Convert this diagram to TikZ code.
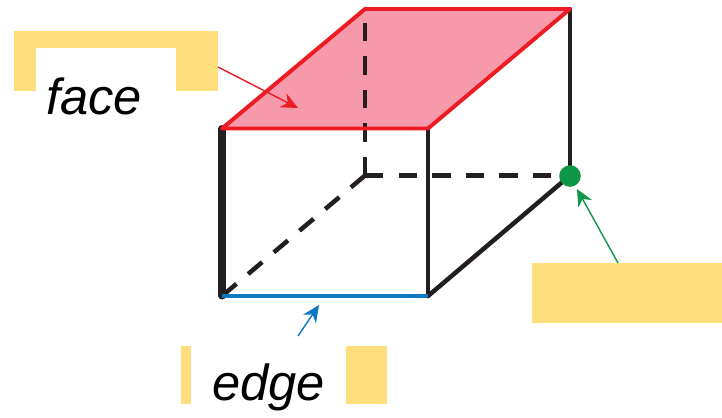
\documentclass[tikz,border=0pt]{standalone}
\usepackage{fontspec}
\setmainfont{Liberation Sans}
\usepackage{xcolor}
\definecolor{boxblack}{HTML}{231F20}
\definecolor{facered}{HTML}{ED1C24}
\definecolor{facepink}{HTML}{F699AA}
\definecolor{edgeblue}{HTML}{0B78C2}
\definecolor{vertexgreen}{HTML}{0F9647}
\definecolor{labelyellow}{HTML}{FFDE7E}
\usetikzlibrary{arrows.meta,positioning}
\tikzset{
  solidedge/.style={color=boxblack,line width=3.2pt,line cap=round},
  hiddenedge/.style={color=boxblack,line width=3.2pt,dash pattern=on 13.1pt off 10.8pt},
  labelbox/.style={fill=labelyellow,draw=none,inner sep=0pt,rectangle},
  labeltext/.style={inner sep=0pt,font=\fontsize{36}{40}\selectfont\itshape,color=black},
  pointer/.style={line width=1pt,-{Stealth[length=12pt,width=11pt]}}
}

\begin{document}
\begin{tikzpicture}[x=0.025cm,y=-0.025cm]
\useasboundingbox (0,0) rectangle (722,417);
\coordinate (ftl) at (222,128.5);
\coordinate (ftr) at (428,128.5);
\coordinate (fbl) at (222,296);
\coordinate (fbr) at (428,296);
\coordinate (btl) at (365,9);
\coordinate (btr) at (570,9);
\coordinate (bbl) at (365,175.5);
\coordinate (bbr) at (570,175.5);
\fill[facepink] (ftl) -- (btl) -- (btr) -- (ftr) -- cycle;
\draw[hiddenedge] (bbl) -- (btl);
\draw[hiddenedge] (bbl) -- (bbr);
\draw[hiddenedge] (bbl) -- (fbl);
\draw[solidedge] (btr) -- (bbr);
\draw[solidedge] (bbr) -- (fbr);
\draw[solidedge] (ftr) -- (fbr);
\draw[solidedge,line width=5pt] (ftl) -- (fbl);
\draw[edgeblue,line width=3.2pt] (fbl) -- (fbr);
\draw[facered,line width=2.8pt,line join=round] (ftl) -- (btl) -- (btr) -- (ftr) -- cycle;
\node[circle,fill=vertexgreen,inner sep=0pt,minimum size=0.54cm] (vertexdot) at (570,176) {};
% label patches
\node[labelbox,minimum width=5.1cm,minimum height=0.425cm] (facetop) at (116,39.5) {};
\node[labelbox,minimum width=0.55cm,minimum height=1.075cm] (faceleft) at (25,69.5) {};
\node[labelbox,minimum width=1.05cm,minimum height=1.075cm] (faceright) at (197,69.5) {};
\node[labelbox,minimum width=0.25cm,minimum height=1.45cm] (edgeleft) at (186,375) {};
\node[labelbox,minimum width=1.025cm,minimum height=1.45cm] (edgeright) at (366.5,375) {};
\node[labelbox,minimum width=4.75cm,minimum height=1.5cm] (vertexbox) at (627,293) {};
\node[labeltext,anchor=base west] (facelabel) at (46,114.5) {face};
\node[labeltext,anchor=base west] (edgelabel) at (212,400.5) {edge};
% pointers
\coordinate (facefrom) at (218,67);
\coordinate (faceto) at (298,108);
\coordinate (edgefrom) at (298,336);
\coordinate (edgeto) at (319,305);
\coordinate (vertexfrom) at (618,263);
\coordinate (vertexto) at (577,189);
\draw[pointer,facered] (facefrom) -- (faceto);
\draw[pointer,edgeblue] (edgefrom) -- (edgeto);
\draw[pointer,vertexgreen] (vertexfrom) -- (vertexto);
\end{tikzpicture}
\end{document}
